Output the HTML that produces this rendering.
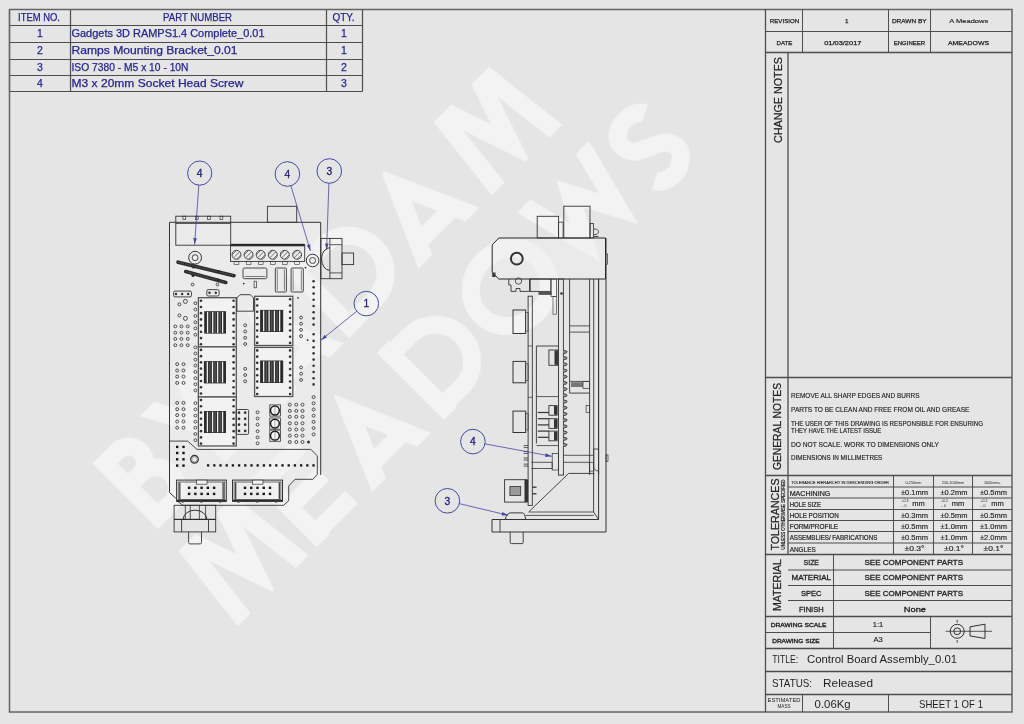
<!DOCTYPE html>
<html><head><meta charset="utf-8"><title>Control Board Assembly</title>
<style>
html,body{margin:0;padding:0;background:#e5e5e5;width:1024px;height:724px;overflow:hidden;}
svg{display:block;font-family:"Liberation Sans",sans-serif;}
</style></head><body>
<svg width="1024" height="724" viewBox="0 0 1024 724">
<rect width="1024" height="724" fill="#e5e5e5"/>
<defs><clipPath id="wmc1"><rect x="-400" y="393.0" width="900" height="92.5"/></clipPath><clipPath id="wmc2"><rect x="-400" y="516.5" width="900" height="94.0"/></clipPath></defs>
<g transform="rotate(-45)" opacity="0.55" fill="none" stroke="#ffffff" stroke-width="18.0" stroke-linejoin="miter" stroke-miterlimit="20">
<path clip-path="url(#wmc1)" d="M-253.5,390.0 V488.5 M-253.5,402.0 H-236.3 A16.3,16.3 0 0 1 -236.3,434.6 H-253.5 M-253.5,434.6 H-234.9 A20.9,20.9 0 0 1 -234.9,476.5 H-253.5 M-192.0,381.0 L-159.0,441.1 L-126.0,381.0 M-159.0,436.1 V488.5 M-82.8,500.5 L-43.0,411.1 L-3.2,500.5 M-73.8,467.0 H-12.2 M17.0,390.0 V488.5 M17.0,402.0 H53.2 A37.2,37.2 0 0 1 53.2,476.5 H17.0 M109.2,500.5 L149.0,411.1 L188.8,500.5 M118.2,467.0 H179.8 M216.4,505.5 L231.0,379.0 L259.5,463.5 L288.0,379.0 L302.6,505.5"/>
<path clip-path="url(#wmc2)" d="M-267.6,629.0 L-253.0,504.0 L-224.5,587.0 L-196.0,504.0 L-181.4,629.0 M-154.0,515.0 V612.0 M-163.0,527.0 H-103.0 M-163.0,563.5 H-107.0 M-163.0,600.0 H-103.0 M-80.7,624.0 L-43.0,536.7 L-5.3,624.0 M-72.1,590.8 H-13.9 M26.0,515.0 V612.0 M26.0,527.0 H52.5 A36.5,36.5 0 0 1 52.5,600.0 H26.0 M117.0,563.5 A40.5,37.5 0 1 1 198.0,563.5 A40.5,37.5 0 1 1 117.0,563.5 Z M222.0,506.0 L242.1,585.0 L266.0,540.0 L289.9,585.0 L310.0,506.0 M376.0,536.2 C372.0,528.0 363.5,527.0 355.5,527.0 C343.0,527.0 336.0,536.1 336.0,542.6 C336.0,556.2 345.5,559.0 355.5,563.5 C365.5,568.0 375.0,570.8 375.0,584.4 C375.0,590.9 362.5,600.0 355.5,600.0 C347.5,600.0 339.0,599.0 335.0,590.8"/>
</g>
<path d="M169.5,222.3 H320.7 V475 L317.3,479.3 H295 L288.7,489 V500.8 L283,505.3 H182.8 L177.9,501.6 L175.8,498.3 L170.1,492.5 Z" fill="#f0f0f0" fill-opacity="0.55" stroke="none"/>
<path d="M169.5,222.3 H320.7 V475" fill="none" stroke="#333333" stroke-width="1.0" />
<path d="M169.5,222.3 V492.5 L175.8,498.3" fill="none" stroke="#333333" stroke-width="1.0" />
<path d="M169.5,441.1 H187.7 L197,449.4 H310.8 L317.3,455.8 V474.4 L312.9,479.3 H295 L288.7,486 V500.8 L283.5,505.3 H182.8 L177.9,501.6" fill="none" stroke="#333333" stroke-width="0.9" />
<rect x="175.8" y="216.2" width="54.9" height="29" rx="0" fill="none" stroke="#333333" stroke-width="0.9"/>
<line x1="175.8" y1="223.5" x2="230.7" y2="223.5" stroke="#333333" stroke-width="0.8"/>
<rect x="182.9" y="216.2" width="2.8" height="3.2" rx="0" fill="none" stroke="#333333" stroke-width="0.7"/>
<rect x="195.4" y="216.2" width="2.8" height="3.2" rx="0" fill="none" stroke="#333333" stroke-width="0.7"/>
<rect x="207.5" y="216.2" width="2.8" height="3.2" rx="0" fill="none" stroke="#333333" stroke-width="0.7"/>
<rect x="220" y="216.2" width="2.8" height="3.2" rx="0" fill="none" stroke="#333333" stroke-width="0.7"/>
<rect x="267.4" y="206.3" width="29.3" height="16" rx="0" fill="none" stroke="#333333" stroke-width="0.9"/>
<rect x="230.5" y="244.7" width="74.2" height="16.7" rx="0" fill="none" stroke="#333333" stroke-width="0.9"/>
<rect x="230.5" y="243.8" width="74.2" height="2.5" fill="#2a2a2a"/>
<circle cx="236.5" cy="254.8" r="4.5" fill="none" stroke="#333333" stroke-width="0.9"/>
<line x1="231.3" y1="255.6" x2="237.3" y2="249.6" stroke="#3a3a3a" stroke-width="0.7" clip-path="url(#tc0)"/>
<line x1="233.5" y1="257.8" x2="239.5" y2="251.8" stroke="#3a3a3a" stroke-width="0.7" clip-path="url(#tc0)"/>
<line x1="235.7" y1="260" x2="241.7" y2="254" stroke="#3a3a3a" stroke-width="0.7" clip-path="url(#tc0)"/>
<clipPath id="tc0"><circle cx="236.5" cy="254.8" r="4.2"/></clipPath>
<circle cx="248.6" cy="254.8" r="4.5" fill="none" stroke="#333333" stroke-width="0.9"/>
<line x1="243.4" y1="255.6" x2="249.4" y2="249.6" stroke="#3a3a3a" stroke-width="0.7" clip-path="url(#tc1)"/>
<line x1="245.6" y1="257.8" x2="251.6" y2="251.8" stroke="#3a3a3a" stroke-width="0.7" clip-path="url(#tc1)"/>
<line x1="247.8" y1="260" x2="253.8" y2="254" stroke="#3a3a3a" stroke-width="0.7" clip-path="url(#tc1)"/>
<clipPath id="tc1"><circle cx="248.6" cy="254.8" r="4.2"/></clipPath>
<circle cx="260.7" cy="254.8" r="4.5" fill="none" stroke="#333333" stroke-width="0.9"/>
<line x1="255.5" y1="255.6" x2="261.5" y2="249.6" stroke="#3a3a3a" stroke-width="0.7" clip-path="url(#tc2)"/>
<line x1="257.7" y1="257.8" x2="263.7" y2="251.8" stroke="#3a3a3a" stroke-width="0.7" clip-path="url(#tc2)"/>
<line x1="259.9" y1="260" x2="265.9" y2="254" stroke="#3a3a3a" stroke-width="0.7" clip-path="url(#tc2)"/>
<clipPath id="tc2"><circle cx="260.7" cy="254.8" r="4.2"/></clipPath>
<circle cx="272.8" cy="254.8" r="4.5" fill="none" stroke="#333333" stroke-width="0.9"/>
<line x1="267.6" y1="255.6" x2="273.6" y2="249.6" stroke="#3a3a3a" stroke-width="0.7" clip-path="url(#tc3)"/>
<line x1="269.8" y1="257.8" x2="275.8" y2="251.8" stroke="#3a3a3a" stroke-width="0.7" clip-path="url(#tc3)"/>
<line x1="272" y1="260" x2="278" y2="254" stroke="#3a3a3a" stroke-width="0.7" clip-path="url(#tc3)"/>
<clipPath id="tc3"><circle cx="272.8" cy="254.8" r="4.2"/></clipPath>
<circle cx="284.8" cy="254.8" r="4.5" fill="none" stroke="#333333" stroke-width="0.9"/>
<line x1="279.6" y1="255.6" x2="285.6" y2="249.6" stroke="#3a3a3a" stroke-width="0.7" clip-path="url(#tc4)"/>
<line x1="281.8" y1="257.8" x2="287.8" y2="251.8" stroke="#3a3a3a" stroke-width="0.7" clip-path="url(#tc4)"/>
<line x1="284" y1="260" x2="290" y2="254" stroke="#3a3a3a" stroke-width="0.7" clip-path="url(#tc4)"/>
<clipPath id="tc4"><circle cx="284.8" cy="254.8" r="4.2"/></clipPath>
<circle cx="297.1" cy="254.8" r="4.5" fill="none" stroke="#333333" stroke-width="0.9"/>
<line x1="291.9" y1="255.6" x2="297.9" y2="249.6" stroke="#3a3a3a" stroke-width="0.7" clip-path="url(#tc5)"/>
<line x1="294.1" y1="257.8" x2="300.1" y2="251.8" stroke="#3a3a3a" stroke-width="0.7" clip-path="url(#tc5)"/>
<line x1="296.3" y1="260" x2="302.3" y2="254" stroke="#3a3a3a" stroke-width="0.7" clip-path="url(#tc5)"/>
<clipPath id="tc5"><circle cx="297.1" cy="254.8" r="4.2"/></clipPath>
<rect x="234.1" y="261.4" width="4.8" height="3.2" rx="0" fill="none" stroke="#333333" stroke-width="0.6"/>
<rect x="246.2" y="261.4" width="4.8" height="3.2" rx="0" fill="none" stroke="#333333" stroke-width="0.6"/>
<rect x="258.3" y="261.4" width="4.8" height="3.2" rx="0" fill="none" stroke="#333333" stroke-width="0.6"/>
<rect x="270.4" y="261.4" width="4.8" height="3.2" rx="0" fill="none" stroke="#333333" stroke-width="0.6"/>
<rect x="282.4" y="261.4" width="4.8" height="3.2" rx="0" fill="none" stroke="#333333" stroke-width="0.6"/>
<rect x="294.7" y="261.4" width="4.8" height="3.2" rx="0" fill="none" stroke="#333333" stroke-width="0.6"/>
<circle cx="195.1" cy="257.7" r="6.4" fill="none" stroke="#333333" stroke-width="1.0"/>
<circle cx="195.1" cy="257.7" r="3" fill="none" stroke="#333333" stroke-width="0.9"/>
<circle cx="312.6" cy="260.5" r="6.3" fill="none" stroke="#333333" stroke-width="1.0"/>
<circle cx="312.6" cy="260.5" r="3" fill="none" stroke="#333333" stroke-width="0.9"/>
<line x1="178.1" y1="262.2" x2="234.0" y2="275.7" stroke="#2c2c2c" stroke-width="3.6" stroke-linecap="round"/>
<line x1="178.1" y1="262.2" x2="234.0" y2="275.7" stroke="#8a8a8a" stroke-width="0.6" stroke-dasharray="1.2,1.2"/>
<line x1="185.7" y1="271.5" x2="225.8" y2="282.5" stroke="#2c2c2c" stroke-width="3.6" stroke-linecap="round"/>
<line x1="185.7" y1="271.5" x2="225.8" y2="282.5" stroke="#8a8a8a" stroke-width="0.6" stroke-dasharray="1.2,1.2"/>
<circle cx="193.5" cy="267" r="1.6" fill="#2c2c2c"/>
<circle cx="218.5" cy="271.5" r="1.6" fill="#2c2c2c"/>
<circle cx="193" cy="275.5" r="1.6" fill="#2c2c2c"/>
<circle cx="218" cy="280" r="1.6" fill="#2c2c2c"/>
<circle cx="192.6" cy="284.5" r="1.4" fill="none" stroke="#444" stroke-width="0.95"/>
<circle cx="217.5" cy="284.5" r="1.4" fill="none" stroke="#444" stroke-width="0.95"/>
<rect x="173.6" y="291.1" width="17.9" height="5.8" rx="1.5" fill="none" stroke="#333333" stroke-width="0.9"/>
<circle cx="176" cy="294.1" r="1.25" fill="#333333"/>
<circle cx="182.1" cy="294.1" r="1.25" fill="#333333"/>
<circle cx="188.2" cy="294.1" r="1.25" fill="#333333"/>
<rect x="206.8" y="289.6" width="12.3" height="6.4" rx="1.5" fill="none" stroke="#333333" stroke-width="0.9"/>
<circle cx="209.5" cy="292.8" r="1.25" fill="#333333"/>
<circle cx="215.8" cy="292.8" r="1.25" fill="#333333"/>
<rect x="243" y="268" width="23.9" height="10.7" rx="1.5" fill="none" stroke="#333333" stroke-width="0.9"/>
<line x1="244.5" y1="276.5" x2="265.5" y2="276.5" stroke="#333333" stroke-width="0.6"/>
<rect x="275.3" y="268" width="11.1" height="24" rx="1" fill="none" stroke="#333333" stroke-width="0.9"/>
<line x1="277.3" y1="269.5" x2="277.3" y2="290.5" stroke="#333333" stroke-width="0.6"/>
<line x1="284.4" y1="269.5" x2="284.4" y2="290.5" stroke="#333333" stroke-width="0.6"/>
<rect x="291.1" y="268" width="12.2" height="24" rx="1" fill="none" stroke="#333333" stroke-width="0.9"/>
<line x1="293.1" y1="269.5" x2="293.1" y2="290.5" stroke="#333333" stroke-width="0.6"/>
<line x1="301.3" y1="269.5" x2="301.3" y2="290.5" stroke="#333333" stroke-width="0.6"/>
<rect x="254.1" y="281.2" width="2.5" height="6.6" rx="0" fill="none" stroke="#333333" stroke-width="0.7"/>
<circle cx="243.7" cy="283.6" r="0.9" fill="#333333"/>
<circle cx="305.5" cy="267.6" r="0.9" fill="#333333"/>
<circle cx="298" cy="297.8" r="0.9" fill="#333333"/>
<circle cx="307.6" cy="340.2" r="0.9" fill="#333333"/>
<circle cx="185.4" cy="301.4" r="2" fill="none" stroke="#444" stroke-width="0.95"/>
<circle cx="179.4" cy="304.3" r="1.5" fill="none" stroke="#444" stroke-width="0.95"/>
<circle cx="179.4" cy="315.4" r="1.5" fill="none" stroke="#444" stroke-width="0.95"/>
<circle cx="185.4" cy="318.4" r="2" fill="none" stroke="#444" stroke-width="0.95"/>
<rect x="198.4" y="297.7" width="37.9" height="49.2" rx="0" fill="#f2f2f2" stroke="#555" stroke-width="1.3"/>
<circle cx="201" cy="300.7" r="1.3" fill="#333333"/>
<circle cx="233.6" cy="300.7" r="1.3" fill="#333333"/>
<circle cx="201" cy="306.93" r="1.3" fill="#333333"/>
<circle cx="233.6" cy="306.93" r="1.3" fill="#333333"/>
<circle cx="201" cy="313.16" r="1.3" fill="#333333"/>
<circle cx="233.6" cy="313.16" r="1.3" fill="#333333"/>
<circle cx="201" cy="319.39" r="1.3" fill="#333333"/>
<circle cx="233.6" cy="319.39" r="1.3" fill="#333333"/>
<circle cx="201" cy="325.62" r="1.3" fill="#333333"/>
<circle cx="233.6" cy="325.62" r="1.3" fill="#333333"/>
<circle cx="201" cy="331.85" r="1.3" fill="#333333"/>
<circle cx="233.6" cy="331.85" r="1.3" fill="#333333"/>
<circle cx="201" cy="338.08" r="1.3" fill="#333333"/>
<circle cx="233.6" cy="338.08" r="1.3" fill="#333333"/>
<circle cx="201" cy="344.31" r="1.3" fill="#333333"/>
<circle cx="233.6" cy="344.31" r="1.3" fill="#333333"/>
<rect x="204.2" y="311.2" width="21.8" height="22.4" fill="#2c2c2c"/>
<line x1="207.58" y1="311.9" x2="207.58" y2="332.9" stroke="#f0f0f0" stroke-width="1.3"/>
<line x1="212.7" y1="311.9" x2="212.7" y2="332.9" stroke="#f0f0f0" stroke-width="1.3"/>
<line x1="217.72" y1="311.9" x2="217.72" y2="332.9" stroke="#f0f0f0" stroke-width="1.3"/>
<line x1="222.62" y1="311.9" x2="222.62" y2="332.9" stroke="#f0f0f0" stroke-width="1.3"/>
<line x1="210.09" y1="311.9" x2="210.09" y2="332.9" stroke="#6a6a6a" stroke-width="0.9"/>
<line x1="215.21" y1="311.9" x2="215.21" y2="332.9" stroke="#6a6a6a" stroke-width="0.9"/>
<line x1="220.22" y1="311.9" x2="220.22" y2="332.9" stroke="#6a6a6a" stroke-width="0.9"/>
<rect x="198.4" y="346.9" width="37.9" height="50.1" rx="0" fill="#f2f2f2" stroke="#555" stroke-width="1.3"/>
<circle cx="201" cy="349.9" r="1.3" fill="#333333"/>
<circle cx="233.6" cy="349.9" r="1.3" fill="#333333"/>
<circle cx="201" cy="356.13" r="1.3" fill="#333333"/>
<circle cx="233.6" cy="356.13" r="1.3" fill="#333333"/>
<circle cx="201" cy="362.36" r="1.3" fill="#333333"/>
<circle cx="233.6" cy="362.36" r="1.3" fill="#333333"/>
<circle cx="201" cy="368.59" r="1.3" fill="#333333"/>
<circle cx="233.6" cy="368.59" r="1.3" fill="#333333"/>
<circle cx="201" cy="374.82" r="1.3" fill="#333333"/>
<circle cx="233.6" cy="374.82" r="1.3" fill="#333333"/>
<circle cx="201" cy="381.05" r="1.3" fill="#333333"/>
<circle cx="233.6" cy="381.05" r="1.3" fill="#333333"/>
<circle cx="201" cy="387.28" r="1.3" fill="#333333"/>
<circle cx="233.6" cy="387.28" r="1.3" fill="#333333"/>
<circle cx="201" cy="393.51" r="1.3" fill="#333333"/>
<circle cx="233.6" cy="393.51" r="1.3" fill="#333333"/>
<rect x="203.9" y="361.1" width="22.1" height="22.3" fill="#2c2c2c"/>
<line x1="207.33" y1="361.8" x2="207.33" y2="382.7" stroke="#f0f0f0" stroke-width="1.3"/>
<line x1="212.52" y1="361.8" x2="212.52" y2="382.7" stroke="#f0f0f0" stroke-width="1.3"/>
<line x1="217.6" y1="361.8" x2="217.6" y2="382.7" stroke="#f0f0f0" stroke-width="1.3"/>
<line x1="222.57" y1="361.8" x2="222.57" y2="382.7" stroke="#f0f0f0" stroke-width="1.3"/>
<line x1="209.87" y1="361.8" x2="209.87" y2="382.7" stroke="#6a6a6a" stroke-width="0.9"/>
<line x1="215.06" y1="361.8" x2="215.06" y2="382.7" stroke="#6a6a6a" stroke-width="0.9"/>
<line x1="220.14" y1="361.8" x2="220.14" y2="382.7" stroke="#6a6a6a" stroke-width="0.9"/>
<rect x="198.4" y="397" width="37.9" height="49" rx="0" fill="#f2f2f2" stroke="#555" stroke-width="1.3"/>
<circle cx="201" cy="400" r="1.3" fill="#333333"/>
<circle cx="233.6" cy="400" r="1.3" fill="#333333"/>
<circle cx="201" cy="406.23" r="1.3" fill="#333333"/>
<circle cx="233.6" cy="406.23" r="1.3" fill="#333333"/>
<circle cx="201" cy="412.46" r="1.3" fill="#333333"/>
<circle cx="233.6" cy="412.46" r="1.3" fill="#333333"/>
<circle cx="201" cy="418.69" r="1.3" fill="#333333"/>
<circle cx="233.6" cy="418.69" r="1.3" fill="#333333"/>
<circle cx="201" cy="424.92" r="1.3" fill="#333333"/>
<circle cx="233.6" cy="424.92" r="1.3" fill="#333333"/>
<circle cx="201" cy="431.15" r="1.3" fill="#333333"/>
<circle cx="233.6" cy="431.15" r="1.3" fill="#333333"/>
<circle cx="201" cy="437.38" r="1.3" fill="#333333"/>
<circle cx="233.6" cy="437.38" r="1.3" fill="#333333"/>
<circle cx="201" cy="443.61" r="1.3" fill="#333333"/>
<circle cx="233.6" cy="443.61" r="1.3" fill="#333333"/>
<rect x="204" y="411" width="22" height="22" fill="#2c2c2c"/>
<line x1="207.41" y1="411.7" x2="207.41" y2="432.3" stroke="#f0f0f0" stroke-width="1.3"/>
<line x1="212.58" y1="411.7" x2="212.58" y2="432.3" stroke="#f0f0f0" stroke-width="1.3"/>
<line x1="217.64" y1="411.7" x2="217.64" y2="432.3" stroke="#f0f0f0" stroke-width="1.3"/>
<line x1="222.59" y1="411.7" x2="222.59" y2="432.3" stroke="#f0f0f0" stroke-width="1.3"/>
<line x1="209.94" y1="411.7" x2="209.94" y2="432.3" stroke="#6a6a6a" stroke-width="0.9"/>
<line x1="215.11" y1="411.7" x2="215.11" y2="432.3" stroke="#6a6a6a" stroke-width="0.9"/>
<line x1="220.17" y1="411.7" x2="220.17" y2="432.3" stroke="#6a6a6a" stroke-width="0.9"/>
<rect x="254.6" y="296.3" width="38.2" height="49.2" rx="0" fill="#f2f2f2" stroke="#555" stroke-width="1.3"/>
<circle cx="257.2" cy="299.3" r="1.3" fill="#333333"/>
<circle cx="290.1" cy="299.3" r="1.3" fill="#333333"/>
<circle cx="257.2" cy="305.53" r="1.3" fill="#333333"/>
<circle cx="290.1" cy="305.53" r="1.3" fill="#333333"/>
<circle cx="257.2" cy="311.76" r="1.3" fill="#333333"/>
<circle cx="290.1" cy="311.76" r="1.3" fill="#333333"/>
<circle cx="257.2" cy="317.99" r="1.3" fill="#333333"/>
<circle cx="290.1" cy="317.99" r="1.3" fill="#333333"/>
<circle cx="257.2" cy="324.22" r="1.3" fill="#333333"/>
<circle cx="290.1" cy="324.22" r="1.3" fill="#333333"/>
<circle cx="257.2" cy="330.45" r="1.3" fill="#333333"/>
<circle cx="290.1" cy="330.45" r="1.3" fill="#333333"/>
<circle cx="257.2" cy="336.68" r="1.3" fill="#333333"/>
<circle cx="290.1" cy="336.68" r="1.3" fill="#333333"/>
<circle cx="257.2" cy="342.91" r="1.3" fill="#333333"/>
<circle cx="290.1" cy="342.91" r="1.3" fill="#333333"/>
<rect x="260.1" y="309.9" width="23.1" height="22.1" fill="#2c2c2c"/>
<line x1="263.68" y1="310.6" x2="263.68" y2="331.3" stroke="#f0f0f0" stroke-width="1.3"/>
<line x1="269.11" y1="310.6" x2="269.11" y2="331.3" stroke="#f0f0f0" stroke-width="1.3"/>
<line x1="274.42" y1="310.6" x2="274.42" y2="331.3" stroke="#f0f0f0" stroke-width="1.3"/>
<line x1="279.62" y1="310.6" x2="279.62" y2="331.3" stroke="#f0f0f0" stroke-width="1.3"/>
<line x1="266.34" y1="310.6" x2="266.34" y2="331.3" stroke="#6a6a6a" stroke-width="0.9"/>
<line x1="271.77" y1="310.6" x2="271.77" y2="331.3" stroke="#6a6a6a" stroke-width="0.9"/>
<line x1="277.08" y1="310.6" x2="277.08" y2="331.3" stroke="#6a6a6a" stroke-width="0.9"/>
<rect x="254.6" y="347.4" width="38.2" height="49.1" rx="0" fill="#f2f2f2" stroke="#555" stroke-width="1.3"/>
<circle cx="257.2" cy="350.4" r="1.3" fill="#333333"/>
<circle cx="290.1" cy="350.4" r="1.3" fill="#333333"/>
<circle cx="257.2" cy="356.63" r="1.3" fill="#333333"/>
<circle cx="290.1" cy="356.63" r="1.3" fill="#333333"/>
<circle cx="257.2" cy="362.86" r="1.3" fill="#333333"/>
<circle cx="290.1" cy="362.86" r="1.3" fill="#333333"/>
<circle cx="257.2" cy="369.09" r="1.3" fill="#333333"/>
<circle cx="290.1" cy="369.09" r="1.3" fill="#333333"/>
<circle cx="257.2" cy="375.32" r="1.3" fill="#333333"/>
<circle cx="290.1" cy="375.32" r="1.3" fill="#333333"/>
<circle cx="257.2" cy="381.55" r="1.3" fill="#333333"/>
<circle cx="290.1" cy="381.55" r="1.3" fill="#333333"/>
<circle cx="257.2" cy="387.78" r="1.3" fill="#333333"/>
<circle cx="290.1" cy="387.78" r="1.3" fill="#333333"/>
<circle cx="257.2" cy="394.01" r="1.3" fill="#333333"/>
<circle cx="290.1" cy="394.01" r="1.3" fill="#333333"/>
<rect x="260.1" y="360.5" width="23.1" height="22.5" fill="#2c2c2c"/>
<line x1="263.68" y1="361.2" x2="263.68" y2="382.3" stroke="#f0f0f0" stroke-width="1.3"/>
<line x1="269.11" y1="361.2" x2="269.11" y2="382.3" stroke="#f0f0f0" stroke-width="1.3"/>
<line x1="274.42" y1="361.2" x2="274.42" y2="382.3" stroke="#f0f0f0" stroke-width="1.3"/>
<line x1="279.62" y1="361.2" x2="279.62" y2="382.3" stroke="#f0f0f0" stroke-width="1.3"/>
<line x1="266.34" y1="361.2" x2="266.34" y2="382.3" stroke="#6a6a6a" stroke-width="0.9"/>
<line x1="271.77" y1="361.2" x2="271.77" y2="382.3" stroke="#6a6a6a" stroke-width="0.9"/>
<line x1="277.08" y1="361.2" x2="277.08" y2="382.3" stroke="#6a6a6a" stroke-width="0.9"/>
<path d="M236.9,311.2 V298 L240,294.7 H250.4 L253.5,298 V311.2 Z" fill="none" stroke="#333333" stroke-width="0.9" />
<circle cx="175.3" cy="326.4" r="1.45" fill="none" stroke="#444" stroke-width="0.95"/>
<circle cx="181.4" cy="326.4" r="1.45" fill="none" stroke="#444" stroke-width="0.95"/>
<circle cx="187.7" cy="326.4" r="1.45" fill="none" stroke="#444" stroke-width="0.95"/>
<circle cx="175.3" cy="332.7" r="1.45" fill="none" stroke="#444" stroke-width="0.95"/>
<circle cx="181.4" cy="332.7" r="1.45" fill="none" stroke="#444" stroke-width="0.95"/>
<circle cx="187.7" cy="332.7" r="1.45" fill="none" stroke="#444" stroke-width="0.95"/>
<circle cx="175.3" cy="338.9" r="1.45" fill="none" stroke="#444" stroke-width="0.95"/>
<circle cx="181.4" cy="338.9" r="1.45" fill="none" stroke="#444" stroke-width="0.95"/>
<circle cx="187.7" cy="338.9" r="1.45" fill="none" stroke="#444" stroke-width="0.95"/>
<circle cx="175.3" cy="345.2" r="1.45" fill="none" stroke="#444" stroke-width="0.95"/>
<circle cx="181.4" cy="345.2" r="1.45" fill="none" stroke="#444" stroke-width="0.95"/>
<circle cx="187.7" cy="345.2" r="1.45" fill="none" stroke="#444" stroke-width="0.95"/>
<circle cx="195.4" cy="303.2" r="1.45" fill="none" stroke="#444" stroke-width="0.95"/>
<circle cx="195.4" cy="309.5" r="1.45" fill="none" stroke="#444" stroke-width="0.95"/>
<circle cx="195.4" cy="315.9" r="1.45" fill="none" stroke="#444" stroke-width="0.95"/>
<circle cx="195.4" cy="322.3" r="1.45" fill="none" stroke="#444" stroke-width="0.95"/>
<circle cx="195.4" cy="328.4" r="1.45" fill="none" stroke="#444" stroke-width="0.95"/>
<circle cx="195.4" cy="334.7" r="1.45" fill="none" stroke="#444" stroke-width="0.95"/>
<circle cx="195.4" cy="347.4" r="1.45" fill="none" stroke="#444" stroke-width="0.95"/>
<circle cx="195.4" cy="353.5" r="1.45" fill="none" stroke="#444" stroke-width="0.95"/>
<circle cx="195.4" cy="359.6" r="1.45" fill="none" stroke="#444" stroke-width="0.95"/>
<circle cx="195.4" cy="365.5" r="1.45" fill="none" stroke="#444" stroke-width="0.95"/>
<circle cx="195.4" cy="371.9" r="1.45" fill="none" stroke="#444" stroke-width="0.95"/>
<circle cx="195.4" cy="378.2" r="1.45" fill="none" stroke="#444" stroke-width="0.95"/>
<circle cx="195.4" cy="384.3" r="1.45" fill="none" stroke="#444" stroke-width="0.95"/>
<circle cx="195.4" cy="390.4" r="1.45" fill="none" stroke="#444" stroke-width="0.95"/>
<circle cx="195.4" cy="403.1" r="1.45" fill="none" stroke="#444" stroke-width="0.95"/>
<circle cx="195.4" cy="409.4" r="1.45" fill="none" stroke="#444" stroke-width="0.95"/>
<circle cx="195.4" cy="415.6" r="1.45" fill="none" stroke="#444" stroke-width="0.95"/>
<circle cx="195.4" cy="421.7" r="1.45" fill="none" stroke="#444" stroke-width="0.95"/>
<circle cx="195.4" cy="427.7" r="1.45" fill="none" stroke="#444" stroke-width="0.95"/>
<circle cx="195.4" cy="434" r="1.45" fill="none" stroke="#444" stroke-width="0.95"/>
<circle cx="195.4" cy="440.2" r="1.45" fill="none" stroke="#444" stroke-width="0.95"/>
<circle cx="177.2" cy="364.2" r="1.5" fill="none" stroke="#444" stroke-width="0.95"/>
<circle cx="183.5" cy="364.2" r="1.5" fill="none" stroke="#444" stroke-width="0.95"/>
<circle cx="177.2" cy="370.5" r="1.5" fill="none" stroke="#444" stroke-width="0.95"/>
<circle cx="183.5" cy="370.5" r="1.5" fill="none" stroke="#444" stroke-width="0.95"/>
<circle cx="177.2" cy="376.6" r="1.5" fill="none" stroke="#444" stroke-width="0.95"/>
<circle cx="183.5" cy="376.6" r="1.5" fill="none" stroke="#444" stroke-width="0.95"/>
<circle cx="177.2" cy="382.9" r="1.5" fill="none" stroke="#444" stroke-width="0.95"/>
<circle cx="183.5" cy="382.9" r="1.5" fill="none" stroke="#444" stroke-width="0.95"/>
<circle cx="177.2" cy="402.9" r="1.5" fill="none" stroke="#444" stroke-width="0.95"/>
<circle cx="183.5" cy="402.9" r="1.5" fill="none" stroke="#444" stroke-width="0.95"/>
<circle cx="177.2" cy="409.2" r="1.5" fill="none" stroke="#444" stroke-width="0.95"/>
<circle cx="183.5" cy="409.2" r="1.5" fill="none" stroke="#444" stroke-width="0.95"/>
<circle cx="177.2" cy="415.2" r="1.5" fill="none" stroke="#444" stroke-width="0.95"/>
<circle cx="183.5" cy="415.2" r="1.5" fill="none" stroke="#444" stroke-width="0.95"/>
<circle cx="177.2" cy="421.5" r="1.5" fill="none" stroke="#444" stroke-width="0.95"/>
<circle cx="183.5" cy="421.5" r="1.5" fill="none" stroke="#444" stroke-width="0.95"/>
<circle cx="177.2" cy="427.7" r="1.5" fill="none" stroke="#444" stroke-width="0.95"/>
<circle cx="183.5" cy="427.7" r="1.5" fill="none" stroke="#444" stroke-width="0.95"/>
<circle cx="245.2" cy="325.3" r="1.45" fill="none" stroke="#444" stroke-width="0.95"/>
<circle cx="245.2" cy="331.5" r="1.45" fill="none" stroke="#444" stroke-width="0.95"/>
<circle cx="245.2" cy="337.8" r="1.45" fill="none" stroke="#444" stroke-width="0.95"/>
<circle cx="245.2" cy="344" r="1.45" fill="none" stroke="#444" stroke-width="0.95"/>
<circle cx="245.2" cy="368.8" r="1.45" fill="none" stroke="#444" stroke-width="0.95"/>
<circle cx="245.2" cy="375" r="1.45" fill="none" stroke="#444" stroke-width="0.95"/>
<circle cx="245.2" cy="381.3" r="1.45" fill="none" stroke="#444" stroke-width="0.95"/>
<circle cx="301.1" cy="317.5" r="1.45" fill="none" stroke="#444" stroke-width="0.95"/>
<circle cx="301.1" cy="323.7" r="1.45" fill="none" stroke="#444" stroke-width="0.95"/>
<circle cx="301.1" cy="329.9" r="1.45" fill="none" stroke="#444" stroke-width="0.95"/>
<circle cx="301.1" cy="336.1" r="1.45" fill="none" stroke="#444" stroke-width="0.95"/>
<circle cx="301.1" cy="367.5" r="1.45" fill="none" stroke="#444" stroke-width="0.95"/>
<circle cx="301.1" cy="373.7" r="1.45" fill="none" stroke="#444" stroke-width="0.95"/>
<circle cx="301.1" cy="379.9" r="1.45" fill="none" stroke="#444" stroke-width="0.95"/>
<circle cx="313.6" cy="281.2" r="1.3" fill="#333333"/>
<circle cx="313.6" cy="287.3" r="1.3" fill="#333333"/>
<circle cx="313.6" cy="293.6" r="1.3" fill="#333333"/>
<circle cx="313.6" cy="299.8" r="1.3" fill="#333333"/>
<circle cx="313.6" cy="306" r="1.3" fill="#333333"/>
<circle cx="313.6" cy="312.2" r="1.3" fill="#333333"/>
<circle cx="313.6" cy="318.4" r="1.3" fill="#333333"/>
<circle cx="313.6" cy="324.6" r="1.3" fill="#333333"/>
<circle cx="313.6" cy="334.3" r="1.3" fill="#333333"/>
<circle cx="313.6" cy="340.9" r="1.3" fill="#333333"/>
<circle cx="313.6" cy="347.2" r="1.3" fill="#333333"/>
<circle cx="313.6" cy="353.4" r="1.3" fill="#333333"/>
<circle cx="313.6" cy="359.6" r="1.3" fill="#333333"/>
<circle cx="313.6" cy="365.8" r="1.3" fill="#333333"/>
<circle cx="313.6" cy="372" r="1.3" fill="#333333"/>
<circle cx="313.6" cy="378.2" r="1.3" fill="#333333"/>
<circle cx="313.6" cy="384.4" r="1.3" fill="#333333"/>
<circle cx="313.6" cy="397.1" r="1.5" fill="none" stroke="#444" stroke-width="0.95"/>
<circle cx="313.6" cy="403.3" r="1.5" fill="none" stroke="#444" stroke-width="0.95"/>
<circle cx="313.6" cy="409.5" r="1.5" fill="none" stroke="#444" stroke-width="0.95"/>
<circle cx="313.6" cy="415.7" r="1.5" fill="none" stroke="#444" stroke-width="0.95"/>
<circle cx="313.6" cy="421.9" r="1.5" fill="none" stroke="#444" stroke-width="0.95"/>
<circle cx="313.6" cy="428.1" r="1.5" fill="none" stroke="#444" stroke-width="0.95"/>
<circle cx="313.6" cy="434.4" r="1.5" fill="none" stroke="#444" stroke-width="0.95"/>
<rect x="236.2" y="409.5" width="12.4" height="24.9" rx="1.2" fill="none" stroke="#333333" stroke-width="0.9"/>
<circle cx="239" cy="412.7" r="1.35" fill="#333333"/>
<circle cx="245.2" cy="412.7" r="1.35" fill="#333333"/>
<circle cx="239" cy="418.8" r="1.35" fill="#333333"/>
<circle cx="245.2" cy="418.8" r="1.35" fill="#333333"/>
<circle cx="239" cy="424.7" r="1.35" fill="#333333"/>
<circle cx="245.2" cy="424.7" r="1.35" fill="#333333"/>
<circle cx="239" cy="430.9" r="1.35" fill="#333333"/>
<circle cx="245.2" cy="430.9" r="1.35" fill="#333333"/>
<rect x="269.8" y="404.9" width="10.6" height="11.2" rx="0" fill="none" stroke="#333333" stroke-width="0.8"/>
<circle cx="274.9" cy="410.5" r="4.4" fill="#f4f4f4" stroke="#1a1a1a" stroke-width="1.5"/>
<line x1="274.9" y1="406.3" x2="274.9" y2="414.7" stroke="#666" stroke-width="0.5"/>
<rect x="269.8" y="418" width="10.6" height="11.2" rx="0" fill="none" stroke="#333333" stroke-width="0.8"/>
<circle cx="274.9" cy="423.6" r="4.4" fill="#f4f4f4" stroke="#1a1a1a" stroke-width="1.5"/>
<line x1="274.9" y1="419.4" x2="274.9" y2="427.8" stroke="#666" stroke-width="0.5"/>
<rect x="269.8" y="430.1" width="10.6" height="11.2" rx="0" fill="none" stroke="#333333" stroke-width="0.8"/>
<circle cx="274.9" cy="435.7" r="4.4" fill="#f4f4f4" stroke="#1a1a1a" stroke-width="1.5"/>
<line x1="274.9" y1="431.5" x2="274.9" y2="439.9" stroke="#666" stroke-width="0.5"/>
<circle cx="257.6" cy="412.3" r="1.45" fill="none" stroke="#444" stroke-width="0.95"/>
<circle cx="257.6" cy="418.5" r="1.45" fill="none" stroke="#444" stroke-width="0.95"/>
<circle cx="257.6" cy="424.7" r="1.45" fill="none" stroke="#444" stroke-width="0.95"/>
<circle cx="257.6" cy="431.2" r="1.45" fill="none" stroke="#444" stroke-width="0.95"/>
<circle cx="257.6" cy="437.4" r="1.45" fill="none" stroke="#444" stroke-width="0.95"/>
<circle cx="257.6" cy="443.3" r="1.45" fill="none" stroke="#444" stroke-width="0.95"/>
<circle cx="289.8" cy="404.7" r="1.5" fill="none" stroke="#444" stroke-width="0.95"/>
<circle cx="296.3" cy="404.7" r="1.5" fill="none" stroke="#444" stroke-width="0.95"/>
<circle cx="302.5" cy="404.7" r="1.5" fill="none" stroke="#444" stroke-width="0.95"/>
<circle cx="289.8" cy="410.9" r="1.5" fill="none" stroke="#444" stroke-width="0.95"/>
<circle cx="296.3" cy="410.9" r="1.5" fill="none" stroke="#444" stroke-width="0.95"/>
<circle cx="302.5" cy="410.9" r="1.5" fill="none" stroke="#444" stroke-width="0.95"/>
<circle cx="289.8" cy="416.8" r="1.5" fill="none" stroke="#444" stroke-width="0.95"/>
<circle cx="296.3" cy="416.8" r="1.5" fill="none" stroke="#444" stroke-width="0.95"/>
<circle cx="302.5" cy="416.8" r="1.5" fill="none" stroke="#444" stroke-width="0.95"/>
<circle cx="289.8" cy="423.3" r="1.5" fill="none" stroke="#444" stroke-width="0.95"/>
<circle cx="296.3" cy="423.3" r="1.5" fill="none" stroke="#444" stroke-width="0.95"/>
<circle cx="302.5" cy="423.3" r="1.5" fill="none" stroke="#444" stroke-width="0.95"/>
<circle cx="289.8" cy="429.5" r="1.5" fill="none" stroke="#444" stroke-width="0.95"/>
<circle cx="296.3" cy="429.5" r="1.5" fill="none" stroke="#444" stroke-width="0.95"/>
<circle cx="302.5" cy="429.5" r="1.5" fill="none" stroke="#444" stroke-width="0.95"/>
<circle cx="289.8" cy="435.7" r="1.5" fill="none" stroke="#444" stroke-width="0.95"/>
<circle cx="296.3" cy="435.7" r="1.5" fill="none" stroke="#444" stroke-width="0.95"/>
<circle cx="302.5" cy="435.7" r="1.5" fill="none" stroke="#444" stroke-width="0.95"/>
<circle cx="289.8" cy="442" r="1.5" fill="none" stroke="#444" stroke-width="0.95"/>
<circle cx="296.3" cy="442" r="1.5" fill="none" stroke="#444" stroke-width="0.95"/>
<circle cx="302.5" cy="442" r="1.5" fill="none" stroke="#444" stroke-width="0.95"/>
<circle cx="308.5" cy="442" r="1.5" fill="#333333"/>
<rect x="176" y="445.7" width="2.4" height="2.4" fill="#141414"/>
<rect x="182.3" y="445.7" width="2.4" height="2.4" fill="#141414"/>
<rect x="176" y="451.8" width="2.4" height="2.4" fill="#141414"/>
<rect x="182.3" y="451.8" width="2.4" height="2.4" fill="#141414"/>
<rect x="176" y="458.1" width="2.4" height="2.4" fill="#141414"/>
<rect x="182.3" y="458.1" width="2.4" height="2.4" fill="#141414"/>
<rect x="176" y="464.4" width="2.4" height="2.4" fill="#141414"/>
<rect x="182.3" y="464.4" width="2.4" height="2.4" fill="#141414"/>
<circle cx="194.5" cy="459.3" r="3.8" fill="none" stroke="#333333" stroke-width="1.3"/>
<circle cx="194.5" cy="459.3" r="2.6" fill="none" stroke="#777" stroke-width="0.6"/>
<rect x="206.95" y="464.25" width="2.3" height="2.3" fill="#141414"/>
<rect x="213.15" y="464.25" width="2.3" height="2.3" fill="#141414"/>
<rect x="219.35" y="464.25" width="2.3" height="2.3" fill="#141414"/>
<rect x="225.55" y="464.25" width="2.3" height="2.3" fill="#141414"/>
<rect x="231.75" y="464.25" width="2.3" height="2.3" fill="#141414"/>
<rect x="237.95" y="464.25" width="2.3" height="2.3" fill="#141414"/>
<rect x="244.15" y="464.25" width="2.3" height="2.3" fill="#141414"/>
<rect x="250.35" y="464.25" width="2.3" height="2.3" fill="#141414"/>
<rect x="256.55" y="464.25" width="2.3" height="2.3" fill="#141414"/>
<rect x="262.75" y="464.25" width="2.3" height="2.3" fill="#141414"/>
<rect x="268.95" y="464.25" width="2.3" height="2.3" fill="#141414"/>
<rect x="275.15" y="464.25" width="2.3" height="2.3" fill="#141414"/>
<rect x="281.35" y="464.25" width="2.3" height="2.3" fill="#141414"/>
<rect x="287.55" y="464.25" width="2.3" height="2.3" fill="#141414"/>
<rect x="293.75" y="464.25" width="2.3" height="2.3" fill="#141414"/>
<rect x="299.95" y="464.25" width="2.3" height="2.3" fill="#141414"/>
<rect x="306.15" y="464.25" width="2.3" height="2.3" fill="#141414"/>
<rect x="312.35" y="464.25" width="2.3" height="2.3" fill="#141414"/>
<rect x="176.6" y="480.1" width="49.7" height="21.2" rx="0" fill="none" stroke="#333333" stroke-width="1.0"/>
<rect x="178.2" y="482" width="46.5" height="17.6" rx="0" fill="none" stroke="#333333" stroke-width="0.7"/>
<line x1="179.8" y1="482.5" x2="179.8" y2="499" stroke="#333333" stroke-width="1.2"/>
<line x1="223.1" y1="482.5" x2="223.1" y2="499" stroke="#333333" stroke-width="1.2"/>
<rect x="176.6" y="499.8" width="49.7" height="1.8" fill="#2a2a2a"/>
<rect x="196.48" y="480.1" width="10.5" height="4.1" rx="0" fill="#f2f2f2" stroke="#333333" stroke-width="0.7"/>
<rect x="187.9" y="486.6" width="2.4" height="2.4" fill="#141414"/>
<rect x="187.9" y="492.7" width="2.4" height="2.4" fill="#141414"/>
<rect x="194.15" y="486.6" width="2.4" height="2.4" fill="#141414"/>
<rect x="194.15" y="492.7" width="2.4" height="2.4" fill="#141414"/>
<rect x="200.4" y="486.6" width="2.4" height="2.4" fill="#141414"/>
<rect x="200.4" y="492.7" width="2.4" height="2.4" fill="#141414"/>
<rect x="206.65" y="486.6" width="2.4" height="2.4" fill="#141414"/>
<rect x="206.65" y="492.7" width="2.4" height="2.4" fill="#141414"/>
<rect x="212.9" y="486.6" width="2.4" height="2.4" fill="#141414"/>
<rect x="212.9" y="492.7" width="2.4" height="2.4" fill="#141414"/>
<path d="M181,501.6 A1.6,1.2 0 0 0 184.2,501.6" fill="#555" stroke="none"/>
<path d="M199.8,501.6 A1.6,1.2 0 0 0 203,501.6" fill="#555" stroke="none"/>
<path d="M218.5,501.6 A1.6,1.2 0 0 0 221.7,501.6" fill="#555" stroke="none"/>
<rect x="232.5" y="480.1" width="50" height="21.2" rx="0" fill="none" stroke="#333333" stroke-width="1.0"/>
<rect x="234.1" y="482" width="46.8" height="17.6" rx="0" fill="none" stroke="#333333" stroke-width="0.7"/>
<line x1="235.7" y1="482.5" x2="235.7" y2="499" stroke="#333333" stroke-width="1.2"/>
<line x1="279.3" y1="482.5" x2="279.3" y2="499" stroke="#333333" stroke-width="1.2"/>
<rect x="232.5" y="499.8" width="50" height="1.8" fill="#2a2a2a"/>
<rect x="252.5" y="480.1" width="10.5" height="4.1" rx="0" fill="#f2f2f2" stroke="#333333" stroke-width="0.7"/>
<rect x="243.8" y="486.6" width="2.4" height="2.4" fill="#141414"/>
<rect x="243.8" y="492.7" width="2.4" height="2.4" fill="#141414"/>
<rect x="250.05" y="486.6" width="2.4" height="2.4" fill="#141414"/>
<rect x="250.05" y="492.7" width="2.4" height="2.4" fill="#141414"/>
<rect x="256.3" y="486.6" width="2.4" height="2.4" fill="#141414"/>
<rect x="256.3" y="492.7" width="2.4" height="2.4" fill="#141414"/>
<rect x="262.55" y="486.6" width="2.4" height="2.4" fill="#141414"/>
<rect x="262.55" y="492.7" width="2.4" height="2.4" fill="#141414"/>
<rect x="268.8" y="486.6" width="2.4" height="2.4" fill="#141414"/>
<rect x="268.8" y="492.7" width="2.4" height="2.4" fill="#141414"/>
<path d="M236.9,501.6 A1.6,1.2 0 0 0 240.1,501.6" fill="#555" stroke="none"/>
<path d="M255.7,501.6 A1.6,1.2 0 0 0 258.9,501.6" fill="#555" stroke="none"/>
<path d="M274.4,501.6 A1.6,1.2 0 0 0 277.6,501.6" fill="#555" stroke="none"/>
<rect x="174.1" y="505.3" width="41.6" height="26.6" rx="0" fill="none" stroke="#333333" stroke-width="0.9"/>
<rect x="174.1" y="518.8" width="41.6" height="1.2" fill="#2a2a2a"/>
<line x1="181.6" y1="519.4" x2="181.6" y2="531.9" stroke="#333333" stroke-width="0.9"/>
<line x1="208.5" y1="519.4" x2="208.5" y2="531.9" stroke="#333333" stroke-width="0.9"/>
<line x1="185.3" y1="505.3" x2="185.3" y2="519" stroke="#333333" stroke-width="0.8"/>
<line x1="190.3" y1="505.3" x2="190.3" y2="519" stroke="#333333" stroke-width="0.8"/>
<line x1="199.4" y1="505.3" x2="199.4" y2="519" stroke="#333333" stroke-width="0.8"/>
<line x1="205.6" y1="505.3" x2="205.6" y2="519" stroke="#333333" stroke-width="0.8"/>
<path d="M183.2,519.4 A11.8,9.2 0 0 1 206.9,519.4" fill="none" stroke="#333333" stroke-width="1.0" />
<path d="M188.6,531.9 V542.6 Q188.6,543.9 189.9,543.9 H200.2 Q201.5,543.9 201.5,542.6 V531.9" fill="none" stroke="#333333" stroke-width="0.9" />
<rect x="320.9" y="238.4" width="21.1" height="40.3" rx="0" fill="none" stroke="#333333" stroke-width="0.9"/>
<line x1="329.9" y1="238.4" x2="329.9" y2="278.7" stroke="#333333" stroke-width="0.9"/>
<line x1="329.9" y1="244.7" x2="342" y2="244.7" stroke="#333333" stroke-width="0.8"/>
<line x1="329.9" y1="272.9" x2="342" y2="272.9" stroke="#333333" stroke-width="0.8"/>
<path d="M329.9,247.7 A8.3,11.3 0 0 0 329.9,270.4" fill="none" stroke="#333333" stroke-width="1.0" />
<rect x="342" y="253" width="11.6" height="11.6" rx="0" fill="none" stroke="#333333" stroke-width="0.9"/>
<path d="M492,519.5 H598.6 V279 M606,238 V532 H492 V519.5" fill="none" stroke="#333333" stroke-width="1.0" />
<line x1="500" y1="519.5" x2="500" y2="532" stroke="#333333" stroke-width="0.9"/>
<path d="M528.5,512 L568.7,473.4 H593.6 V512 L598.6,519.5" fill="none" stroke="#333333" stroke-width="0.9" />
<line x1="525.6" y1="515.4" x2="593.6" y2="515.4" stroke="#333333" stroke-width="0.8"/>
<line x1="529" y1="512" x2="593.6" y2="512" stroke="#333333" stroke-width="0.8"/>
<path d="M505.3,519.5 Q506.5,513 510.5,512.9 H522.5 Q525,513 525.6,519.5" fill="none" stroke="#333333" stroke-width="1.0" />
<path d="M510.2,532 V542.5 Q510.2,543.6 511.3,543.6 H522.1 Q523.2,543.6 523.2,542.5 V532" fill="none" stroke="#333333" stroke-width="0.9" />
<path d="M498.8,238 H605.5 V279 H498.8 L492.2,272.5 V244.9 Z" fill="#f0f0f0" fill-opacity="0.5" stroke="#262626" stroke-width="1"/>
<circle cx="516.8" cy="258.7" r="5.9" fill="none" stroke="#333333" stroke-width="2.0"/>
<rect x="492.2" y="272.5" width="3.3" height="4.5" fill="#3a3a3a"/>
<rect x="537.2" y="216.3" width="21.4" height="21.7" rx="0" fill="none" stroke="#333333" stroke-width="0.9"/>
<rect x="558.6" y="222.1" width="4.5" height="15.9" rx="0" fill="none" stroke="#333333" stroke-width="0.8"/>
<rect x="563.8" y="206.2" width="26.2" height="31.8" rx="0" fill="none" stroke="#333333" stroke-width="0.9"/>
<rect x="590" y="223.5" width="3.5" height="14.5" rx="0" fill="none" stroke="#333333" stroke-width="0.8"/>
<path d="M594,229 Q598.5,229 598.5,231.8 Q598.5,234.6 594,234.6" fill="none" stroke="#333333" stroke-width="0.8" />
<line x1="593.5" y1="236.4" x2="598.5" y2="236.4" stroke="#333333" stroke-width="0.9"/>
<rect x="605.5" y="253.9" width="1.9" height="10.3" rx="0" fill="none" stroke="#333333" stroke-width="0.7"/>
<path d="M508.8,279 V285 H511 V291.4 H516 V288.5 H520 V291.4 H529.5 V279" fill="none" stroke="#333333" stroke-width="0.9" />
<circle cx="518.5" cy="281" r="3.2" fill="none" stroke="#333333" stroke-width="0.8"/>
<rect x="530.2" y="279" width="20.7" height="12.4" rx="0" fill="none" stroke="#333333" stroke-width="0.9"/>
<rect x="538.5" y="291.8" width="13.1" height="3.1" fill="#555"/>
<rect x="551" y="279" width="5.4" height="17.5" rx="0" fill="none" stroke="#333333" stroke-width="0.7"/>
<circle cx="561.5" cy="293.5" r="1.3" fill="#333333"/>
<rect x="553" y="296.5" width="3.4" height="17.7" rx="0" fill="none" stroke="#333333" stroke-width="0.6"/>
<rect x="528.1" y="296.2" width="4.2" height="209.2" rx="0" fill="none" stroke="#333333" stroke-width="0.9"/>
<line x1="528.1" y1="397.3" x2="532.3" y2="397.3" stroke="#333333" stroke-width="0.7"/>
<line x1="528.1" y1="346" x2="532.3" y2="346" stroke="#333333" stroke-width="0.7"/>
<rect x="513" y="310" width="12.7" height="23.5" rx="0" fill="none" stroke="#333333" stroke-width="1.0"/>
<rect x="525.7" y="312.5" width="2.4" height="18.5" rx="0" fill="none" stroke="#333333" stroke-width="0.6"/>
<rect x="513" y="361.4" width="12.7" height="21.4" rx="0" fill="none" stroke="#333333" stroke-width="1.0"/>
<rect x="525.7" y="363.9" width="2.4" height="16.4" rx="0" fill="none" stroke="#333333" stroke-width="0.6"/>
<rect x="513" y="411.1" width="12.7" height="21.4" rx="0" fill="none" stroke="#333333" stroke-width="1.0"/>
<rect x="525.7" y="413.6" width="2.4" height="16.4" rx="0" fill="none" stroke="#333333" stroke-width="0.6"/>
<path d="M523.6,445.6 H528.1 M523.6,447.6 H528.1" fill="none" stroke="#333333" stroke-width="0.8" />
<path d="M523.6,451.4 H528.1 M523.6,453.4 H528.1" fill="none" stroke="#333333" stroke-width="0.8" />
<path d="M523.6,458.0 H528.1 M523.6,460.0 H528.1" fill="none" stroke="#333333" stroke-width="0.8" />
<path d="M523.6,464.1 H528.1 M523.6,466.1 H528.1" fill="none" stroke="#333333" stroke-width="0.8" />
<rect x="504.6" y="479.7" width="22.2" height="22.4" rx="0" fill="none" stroke="#333333" stroke-width="0.9"/>
<rect x="509.9" y="486.4" width="10.8" height="9.1" rx="0" fill="#9a9a9a" stroke="#333333" stroke-width="0.8"/>
<rect x="524.5" y="479.7" width="3.6" height="22.4" fill="#333"/>
<line x1="532.3" y1="487.2" x2="536.5" y2="487.2" stroke="#333333" stroke-width="1.3"/>
<line x1="532.3" y1="493.8" x2="536.5" y2="493.8" stroke="#333333" stroke-width="1.3"/>
<rect x="558.5" y="279" width="4.9" height="196.1" rx="0" fill="none" stroke="#333333" stroke-width="0.9"/>
<line x1="536.4" y1="346" x2="536.4" y2="443.5" stroke="#333333" stroke-width="0.9"/>
<line x1="536.4" y1="346" x2="558.5" y2="346" stroke="#333333" stroke-width="0.9"/>
<line x1="537" y1="396.6" x2="558.5" y2="396.6" stroke="#333333" stroke-width="0.8"/>
<line x1="536.4" y1="445.6" x2="558.5" y2="445.6" stroke="#333333" stroke-width="0.8"/>
<rect x="548.9" y="350" width="8.9" height="15.3" rx="0" fill="none" stroke="#333333" stroke-width="0.9"/>
<rect x="554.5" y="350.5" width="3.3" height="14.3" fill="#333"/>
<rect x="548.9" y="405.6" width="8.2" height="9.6" rx="0" fill="none" stroke="#333333" stroke-width="0.9"/>
<rect x="554" y="406.1" width="3.1" height="8.6" fill="#333"/>
<rect x="548.9" y="418.7" width="8.2" height="9.7" rx="0" fill="none" stroke="#333333" stroke-width="0.9"/>
<rect x="554" y="419.2" width="3.1" height="8.7" fill="#333"/>
<rect x="548.9" y="431.1" width="8.2" height="9.7" rx="0" fill="none" stroke="#333333" stroke-width="0.9"/>
<rect x="554" y="431.6" width="3.1" height="8.7" fill="#333"/>
<line x1="537.8" y1="412.5" x2="548.9" y2="412.5" stroke="#333333" stroke-width="1.2"/>
<line x1="537.8" y1="418.7" x2="548.9" y2="418.7" stroke="#333333" stroke-width="1.2"/>
<line x1="537.8" y1="424.9" x2="548.9" y2="424.9" stroke="#333333" stroke-width="1.2"/>
<line x1="537.8" y1="431.1" x2="548.9" y2="431.1" stroke="#333333" stroke-width="1.2"/>
<line x1="537.8" y1="437.3" x2="548.9" y2="437.3" stroke="#333333" stroke-width="1.2"/>
<path d="M563.4,350.4 Q567.6,350.8 567.2,352 Q566.8,353.3 563.4,353.6" fill="#9a9a9a" stroke="#333" stroke-width="0.9" />
<path d="M563.4,356.6 Q567.6,357 567.2,358.2 Q566.8,359.5 563.4,359.8" fill="#9a9a9a" stroke="#333" stroke-width="0.9" />
<path d="M563.4,362.8 Q567.6,363.2 567.2,364.4 Q566.8,365.7 563.4,366" fill="#9a9a9a" stroke="#333" stroke-width="0.9" />
<path d="M563.4,369 Q567.6,369.4 567.2,370.6 Q566.8,371.9 563.4,372.2" fill="#9a9a9a" stroke="#333" stroke-width="0.9" />
<path d="M563.4,375.2 Q567.6,375.6 567.2,376.8 Q566.8,378.1 563.4,378.4" fill="#9a9a9a" stroke="#333" stroke-width="0.9" />
<path d="M563.4,381.4 Q567.6,381.8 567.2,383 Q566.8,384.3 563.4,384.6" fill="#9a9a9a" stroke="#333" stroke-width="0.9" />
<path d="M563.4,387.6 Q567.6,388 567.2,389.2 Q566.8,390.5 563.4,390.8" fill="#9a9a9a" stroke="#333" stroke-width="0.9" />
<path d="M563.4,393.8 Q567.6,394.2 567.2,395.4 Q566.8,396.7 563.4,397" fill="#9a9a9a" stroke="#333" stroke-width="0.9" />
<path d="M563.4,400 Q567.6,400.4 567.2,401.6 Q566.8,402.9 563.4,403.2" fill="#9a9a9a" stroke="#333" stroke-width="0.9" />
<path d="M563.4,406.2 Q567.6,406.6 567.2,407.8 Q566.8,409.1 563.4,409.4" fill="#9a9a9a" stroke="#333" stroke-width="0.9" />
<path d="M563.4,412.4 Q567.6,412.8 567.2,414 Q566.8,415.3 563.4,415.6" fill="#9a9a9a" stroke="#333" stroke-width="0.9" />
<path d="M563.4,418.6 Q567.6,419 567.2,420.2 Q566.8,421.5 563.4,421.8" fill="#9a9a9a" stroke="#333" stroke-width="0.9" />
<path d="M563.4,424.8 Q567.6,425.2 567.2,426.4 Q566.8,427.7 563.4,428" fill="#9a9a9a" stroke="#333" stroke-width="0.9" />
<path d="M563.4,431 Q567.6,431.4 567.2,432.6 Q566.8,433.9 563.4,434.2" fill="#9a9a9a" stroke="#333" stroke-width="0.9" />
<path d="M563.4,437.2 Q567.6,437.6 567.2,438.8 Q566.8,440.1 563.4,440.4" fill="#9a9a9a" stroke="#333" stroke-width="0.9" />
<path d="M563.4,443.4 Q567.6,443.8 567.2,445 Q566.8,446.3 563.4,446.6" fill="#9a9a9a" stroke="#333" stroke-width="0.9" />
<line x1="569.6" y1="279" x2="569.6" y2="393.1" stroke="#333333" stroke-width="0.9"/>
<line x1="569.6" y1="325.9" x2="589.6" y2="325.9" stroke="#333333" stroke-width="0.8"/>
<line x1="569.6" y1="332.1" x2="589.6" y2="332.1" stroke="#333333" stroke-width="0.8"/>
<line x1="569.6" y1="381.4" x2="589.6" y2="381.4" stroke="#333333" stroke-width="0.8"/>
<line x1="569.6" y1="393.1" x2="589.6" y2="393.1" stroke="#333333" stroke-width="0.9"/>
<rect x="571" y="382.2" width="12" height="4.8" fill="#777"/>
<rect x="583" y="381.4" width="6.6" height="7.1" rx="0" fill="none" stroke="#333333" stroke-width="0.7"/>
<rect x="586.1" y="405.6" width="3.5" height="6.9" rx="0" fill="none" stroke="#333333" stroke-width="0.7"/>
<line x1="589.6" y1="279" x2="589.6" y2="475" stroke="#333333" stroke-width="0.9"/>
<line x1="593.7" y1="279" x2="593.7" y2="475" stroke="#333333" stroke-width="0.9"/>
<line x1="598.6" y1="279" x2="598.6" y2="475" stroke="#333333" stroke-width="0.9"/>
<line x1="563.4" y1="455.3" x2="593.6" y2="455.3" stroke="#333333" stroke-width="0.8"/>
<line x1="563.4" y1="462.3" x2="589.5" y2="462.3" stroke="#333333" stroke-width="0.8"/>
<line x1="593.7" y1="449" x2="598.6" y2="449" stroke="#333333" stroke-width="0.8"/>
<line x1="531.4" y1="462.3" x2="552.2" y2="462.3" stroke="#333333" stroke-width="0.8"/>
<line x1="531.4" y1="468.5" x2="552.2" y2="468.5" stroke="#333333" stroke-width="0.8"/>
<line x1="552.2" y1="462.3" x2="552.2" y2="468.5" stroke="#333333" stroke-width="0.8"/>
<rect x="552.2" y="453.5" width="6.3" height="16.5" rx="0" fill="none" stroke="#333333" stroke-width="0.7"/>
<path d="M593.7,449 V466 Q593.7,471 598.6,471" fill="none" stroke="#333333" stroke-width="0.8" />
<rect x="606" y="454.9" width="2" height="6.6" rx="0" fill="none" stroke="#333333" stroke-width="0.7"/>
<rect x="589.5" y="462.3" width="4.1" height="8.8" rx="0" fill="none" stroke="#333333" stroke-width="0.7"/>
<circle cx="199.7" cy="173.1" r="12.1" fill="none" stroke="#4848a0" stroke-width="1"/>
<text x="199.7" y="176.9" font-size="10.3" text-anchor="middle" fill="#20207a" stroke="#20207a" stroke-width="0.3">4</text>
<line x1="198.84" y1="185.17" x2="194.6" y2="244.5" stroke="#4848a0" stroke-width="0.8"/>
<path d="M194.6,244.5 L193.27,237.89 L196.86,238.14 Z" fill="#4848a0"/>
<circle cx="287.4" cy="174" r="12.3" fill="none" stroke="#4848a0" stroke-width="1"/>
<text x="287.4" y="177.8" font-size="10.3" text-anchor="middle" fill="#20207a" stroke="#20207a" stroke-width="0.3">4</text>
<line x1="290.92" y1="185.79" x2="310.4" y2="251" stroke="#4848a0" stroke-width="0.8"/>
<path d="M310.4,251 L306.81,245.29 L310.26,244.26 Z" fill="#4848a0"/>
<circle cx="329.3" cy="171" r="12.3" fill="none" stroke="#4848a0" stroke-width="1"/>
<text x="329.3" y="174.8" font-size="10.3" text-anchor="middle" fill="#20207a" stroke="#20207a" stroke-width="0.3">3</text>
<line x1="328.88" y1="183.29" x2="326.6" y2="250" stroke="#4848a0" stroke-width="0.8"/>
<path d="M326.6,250 L325.02,243.44 L328.62,243.57 Z" fill="#4848a0"/>
<circle cx="366.3" cy="303.6" r="12.3" fill="none" stroke="#4848a0" stroke-width="1"/>
<text x="366.3" y="307.4" font-size="10.3" text-anchor="middle" fill="#20207a" stroke="#20207a" stroke-width="0.3">1</text>
<line x1="356.72" y1="311.31" x2="320.8" y2="340.2" stroke="#4848a0" stroke-width="0.8"/>
<path d="M320.8,340.2 L324.74,334.72 L326.99,337.53 Z" fill="#4848a0"/>
<circle cx="472.9" cy="441.6" r="12.3" fill="none" stroke="#4848a0" stroke-width="1"/>
<text x="472.9" y="445.4" font-size="10.3" text-anchor="middle" fill="#20207a" stroke="#20207a" stroke-width="0.3">4</text>
<line x1="484.99" y1="443.85" x2="551.8" y2="456.3" stroke="#4848a0" stroke-width="0.8"/>
<path d="M551.8,456.3 L545.08,456.88 L545.74,453.34 Z" fill="#4848a0"/>
<circle cx="447.4" cy="500.8" r="12.3" fill="none" stroke="#4848a0" stroke-width="1"/>
<text x="447.4" y="504.6" font-size="10.3" text-anchor="middle" fill="#20207a" stroke="#20207a" stroke-width="0.3">3</text>
<line x1="459.37" y1="503.65" x2="508.3" y2="515.3" stroke="#4848a0" stroke-width="0.8"/>
<path d="M508.3,515.3 L501.56,515.55 L502.39,512.04 Z" fill="#4848a0"/>
<line x1="9.5" y1="9.5" x2="362.5" y2="9.5" stroke="#4d4d4d" stroke-width="1.2"/>
<line x1="9.5" y1="25.5" x2="362.5" y2="25.5" stroke="#4d4d4d" stroke-width="1.2"/>
<line x1="9.5" y1="42.5" x2="362.5" y2="42.5" stroke="#4d4d4d" stroke-width="1.2"/>
<line x1="9.5" y1="59.5" x2="362.5" y2="59.5" stroke="#4d4d4d" stroke-width="1.2"/>
<line x1="9.5" y1="75.5" x2="362.5" y2="75.5" stroke="#4d4d4d" stroke-width="1.2"/>
<line x1="9.5" y1="91.5" x2="362.5" y2="91.5" stroke="#4d4d4d" stroke-width="1.2"/>
<line x1="9.5" y1="9.5" x2="9.5" y2="91.5" stroke="#4d4d4d" stroke-width="1.2"/>
<line x1="70.5" y1="9.5" x2="70.5" y2="91.5" stroke="#4d4d4d" stroke-width="1.2"/>
<line x1="326.5" y1="9.5" x2="326.5" y2="91.5" stroke="#4d4d4d" stroke-width="1.2"/>
<line x1="362.5" y1="9.5" x2="362.5" y2="91.5" stroke="#4d4d4d" stroke-width="1.2"/>
<text x="39" y="21.0" font-size="10.5" text-anchor="middle" fill="#25258c" font-weight="normal"  textLength="42" lengthAdjust="spacingAndGlyphs" stroke="#25258c" stroke-width="0.25">ITEM NO.</text>
<text x="197.5" y="21.0" font-size="10.5" text-anchor="middle" fill="#25258c" font-weight="normal"  textLength="69" lengthAdjust="spacingAndGlyphs" stroke="#25258c" stroke-width="0.25">PART NUMBER</text>
<text x="343.5" y="21.0" font-size="10.5" text-anchor="middle" fill="#25258c" font-weight="normal"  textLength="22" lengthAdjust="spacingAndGlyphs" stroke="#25258c" stroke-width="0.25">QTY.</text>
<text x="40" y="37.1" font-size="10.5" text-anchor="middle" fill="#25258c" font-weight="normal"  stroke="#25258c" stroke-width="0.25">1</text>
<text x="71.5" y="37.1" font-size="10.5" text-anchor="start" fill="#25258c" font-weight="normal"  textLength="193" lengthAdjust="spacingAndGlyphs" stroke="#25258c" stroke-width="0.25">Gadgets 3D RAMPS1.4 Complete_0.01</text>
<text x="344" y="37.1" font-size="10.5" text-anchor="middle" fill="#25258c" font-weight="normal"  stroke="#25258c" stroke-width="0.25">1</text>
<text x="40" y="54.1" font-size="10.5" text-anchor="middle" fill="#25258c" font-weight="normal"  stroke="#25258c" stroke-width="0.25">2</text>
<text x="71.5" y="54.1" font-size="10.5" text-anchor="start" fill="#25258c" font-weight="normal"  textLength="166" lengthAdjust="spacingAndGlyphs" stroke="#25258c" stroke-width="0.25">Ramps Mounting Bracket_0.01</text>
<text x="344" y="54.1" font-size="10.5" text-anchor="middle" fill="#25258c" font-weight="normal"  stroke="#25258c" stroke-width="0.25">1</text>
<text x="40" y="71.1" font-size="10.5" text-anchor="middle" fill="#25258c" font-weight="normal"  stroke="#25258c" stroke-width="0.25">3</text>
<text x="71.5" y="71.1" font-size="10.5" text-anchor="start" fill="#25258c" font-weight="normal"  textLength="117" lengthAdjust="spacingAndGlyphs" stroke="#25258c" stroke-width="0.25">ISO 7380 - M5 x 10 - 10N</text>
<text x="344" y="71.1" font-size="10.5" text-anchor="middle" fill="#25258c" font-weight="normal"  stroke="#25258c" stroke-width="0.25">2</text>
<text x="40" y="87.1" font-size="10.5" text-anchor="middle" fill="#25258c" font-weight="normal"  stroke="#25258c" stroke-width="0.25">4</text>
<text x="71.5" y="87.1" font-size="10.5" text-anchor="start" fill="#25258c" font-weight="normal"  textLength="172" lengthAdjust="spacingAndGlyphs" stroke="#25258c" stroke-width="0.25">M3 x 20mm Socket Head Screw</text>
<text x="344" y="87.1" font-size="10.5" text-anchor="middle" fill="#25258c" font-weight="normal"  stroke="#25258c" stroke-width="0.25">3</text>
<rect x="9.5" y="9.5" width="1002.5" height="702.5" fill="none" stroke="#636363" stroke-width="1.5"/>
<line x1="765.5" y1="9" x2="765.5" y2="712" stroke="#4d4d4d" stroke-width="1.3"/>
<line x1="765.5" y1="31.5" x2="1012" y2="31.5" stroke="#4d4d4d" stroke-width="1"/>
<line x1="765.5" y1="52.5" x2="1012" y2="52.5" stroke="#4d4d4d" stroke-width="1.3"/>
<line x1="802.5" y1="9.5" x2="802.5" y2="52.5" stroke="#4d4d4d" stroke-width="1"/>
<line x1="888.5" y1="9.5" x2="888.5" y2="52.5" stroke="#4d4d4d" stroke-width="1"/>
<line x1="930.5" y1="9.5" x2="930.5" y2="52.5" stroke="#4d4d4d" stroke-width="1"/>
<text x="784.5" y="22.8" font-size="6.2" text-anchor="middle" fill="#1e1e1e" font-weight="normal"  textLength="29.3" lengthAdjust="spacingAndGlyphs" stroke="#1e1e1e" stroke-width="0.25">REVISION</text>
<text x="846.8" y="22.8" font-size="6.2" text-anchor="middle" fill="#1e1e1e" font-weight="normal"  stroke="#1e1e1e" stroke-width="0.25">1</text>
<text x="909.3" y="22.8" font-size="6.2" text-anchor="middle" fill="#1e1e1e" font-weight="normal"  textLength="34.8" lengthAdjust="spacingAndGlyphs" stroke="#1e1e1e" stroke-width="0.25">DRAWN BY</text>
<text x="968.8" y="22.6" font-size="6.2" text-anchor="middle" fill="#1e1e1e" font-weight="normal"  textLength="39" lengthAdjust="spacingAndGlyphs" stroke="#1e1e1e" stroke-width="0.15">A Meadows</text>
<text x="784.5" y="45.4" font-size="6.2" text-anchor="middle" fill="#1e1e1e" font-weight="normal"  textLength="15.9" lengthAdjust="spacingAndGlyphs" stroke="#1e1e1e" stroke-width="0.25">DATE</text>
<text x="842.8" y="45.4" font-size="6.2" text-anchor="middle" fill="#1e1e1e" font-weight="normal"  textLength="37.3" lengthAdjust="spacingAndGlyphs" stroke="#1e1e1e" stroke-width="0.25">01/03/2017</text>
<text x="909.4" y="45.4" font-size="6.2" text-anchor="middle" fill="#1e1e1e" font-weight="normal"  textLength="31.4" lengthAdjust="spacingAndGlyphs" stroke="#1e1e1e" stroke-width="0.25">ENGINEER</text>
<text x="968.5" y="45.4" font-size="6.2" text-anchor="middle" fill="#1e1e1e" font-weight="normal"  textLength="41" lengthAdjust="spacingAndGlyphs" stroke="#1e1e1e" stroke-width="0.25">AMEADOWS</text>
<line x1="788" y1="52.5" x2="788" y2="554" stroke="#4d4d4d" stroke-width="1.3"/>
<text transform="translate(781.5,100) rotate(-90)" font-size="11" text-anchor="middle" fill="#1e1e1e" stroke="#1e1e1e" stroke-width="0.25" textLength="86" lengthAdjust="spacingAndGlyphs">CHANGE NOTES</text>
<line x1="765.5" y1="377.5" x2="1012" y2="377.5" stroke="#4d4d4d" stroke-width="1.3"/>
<text transform="translate(780.5,426.5) rotate(-90)" font-size="11.5" text-anchor="middle" fill="#1e1e1e" stroke="#1e1e1e" stroke-width="0.25" textLength="87" lengthAdjust="spacingAndGlyphs">GENERAL NOTES</text>
<text x="791" y="398.0" font-size="7.0" text-anchor="start" fill="#1e1e1e" font-weight="normal"  textLength="128.6" lengthAdjust="spacingAndGlyphs" stroke="#1e1e1e" stroke-width="0.15">REMOVE ALL SHARP EDGES AND BURRS</text>
<text x="791" y="412.0" font-size="7.0" text-anchor="start" fill="#1e1e1e" font-weight="normal"  textLength="178.4" lengthAdjust="spacingAndGlyphs" stroke="#1e1e1e" stroke-width="0.15">PARTS TO BE CLEAN AND FREE FROM OIL AND GREASE</text>
<text x="791" y="425.5" font-size="7.0" text-anchor="start" fill="#1e1e1e" font-weight="normal"  textLength="192" lengthAdjust="spacingAndGlyphs" stroke="#1e1e1e" stroke-width="0.15">THE USER OF THIS DRAWING IS RESPONSIBLE FOR ENSURING</text>
<text x="791" y="432.5" font-size="7.0" text-anchor="start" fill="#1e1e1e" font-weight="normal"  textLength="90.3" lengthAdjust="spacingAndGlyphs" stroke="#1e1e1e" stroke-width="0.15">THEY HAVE THE LATEST ISSUE</text>
<text x="791" y="446.5" font-size="7.0" text-anchor="start" fill="#1e1e1e" font-weight="normal"  textLength="148" lengthAdjust="spacingAndGlyphs" stroke="#1e1e1e" stroke-width="0.15">DO NOT SCALE. WORK TO DIMENSIONS ONLY</text>
<text x="791" y="460.0" font-size="7.0" text-anchor="start" fill="#1e1e1e" font-weight="normal"  textLength="91.3" lengthAdjust="spacingAndGlyphs" stroke="#1e1e1e" stroke-width="0.15">DIMENSIONS IN MILLIMETRES</text>
<line x1="765.5" y1="475.5" x2="1012" y2="475.5" stroke="#4d4d4d" stroke-width="1.3"/>
<text transform="translate(778.5,514.5) rotate(-90)" font-size="11.5" text-anchor="middle" fill="#1e1e1e" stroke="#1e1e1e" stroke-width="0.25" textLength="72" lengthAdjust="spacingAndGlyphs">TOLERANCES</text>
<text transform="translate(785,514.5) rotate(-90)" font-size="4.6" text-anchor="middle" fill="#1e1e1e" stroke="#1e1e1e" stroke-width="0.2" textLength="70" lengthAdjust="spacingAndGlyphs">UNLESS OTHERWISE SPECIFIED</text>
<line x1="788" y1="487" x2="1012" y2="487" stroke="#4d4d4d" stroke-width="1"/>
<line x1="788" y1="498" x2="1012" y2="498" stroke="#4d4d4d" stroke-width="1"/>
<line x1="788" y1="509.5" x2="1012" y2="509.5" stroke="#4d4d4d" stroke-width="1"/>
<line x1="788" y1="520.5" x2="1012" y2="520.5" stroke="#4d4d4d" stroke-width="1"/>
<line x1="788" y1="531.5" x2="1012" y2="531.5" stroke="#4d4d4d" stroke-width="1"/>
<line x1="788" y1="543" x2="1012" y2="543" stroke="#4d4d4d" stroke-width="1"/>
<line x1="893.5" y1="475.5" x2="893.5" y2="554" stroke="#4d4d4d" stroke-width="1"/>
<line x1="933.5" y1="475.5" x2="933.5" y2="554" stroke="#4d4d4d" stroke-width="1"/>
<line x1="972.5" y1="475.5" x2="972.5" y2="554" stroke="#4d4d4d" stroke-width="1"/>
<text x="791" y="483.5" font-size="3.6" text-anchor="start" fill="#1e1e1e" font-weight="normal"  textLength="98" lengthAdjust="spacingAndGlyphs" stroke="#1e1e1e" stroke-width="0.1">TOLERANCE HIERARCHY IN DESCENDING ORDER</text>
<text x="913.5" y="483.5" font-size="3.8" text-anchor="middle" fill="#1e1e1e" font-weight="normal" >0-250mm</text>
<text x="953" y="483.5" font-size="3.8" text-anchor="middle" fill="#1e1e1e" font-weight="normal" >250-1000mm</text>
<text x="992.5" y="483.5" font-size="3.8" text-anchor="middle" fill="#1e1e1e" font-weight="normal" >1000mm+</text>
<text x="789.7" y="495.5" font-size="7" text-anchor="start" fill="#1e1e1e" font-weight="normal"  textLength="40.7" lengthAdjust="spacingAndGlyphs" stroke="#1e1e1e" stroke-width="0.2">MACHINING</text>
<text x="914.5" y="495.0" font-size="7.2" text-anchor="middle" fill="#1e1e1e" font-weight="normal"  textLength="27" lengthAdjust="spacingAndGlyphs" stroke="#1e1e1e" stroke-width="0.15">±0.1mm</text>
<text x="954" y="495.0" font-size="7.2" text-anchor="middle" fill="#1e1e1e" font-weight="normal"  textLength="27" lengthAdjust="spacingAndGlyphs" stroke="#1e1e1e" stroke-width="0.15">±0.2mm</text>
<text x="993.5" y="495.0" font-size="7.2" text-anchor="middle" fill="#1e1e1e" font-weight="normal"  textLength="27" lengthAdjust="spacingAndGlyphs" stroke="#1e1e1e" stroke-width="0.15">±0.5mm</text>
<text x="789.7" y="506.5" font-size="7" text-anchor="start" fill="#1e1e1e" font-weight="normal"  textLength="31.2" lengthAdjust="spacingAndGlyphs" stroke="#1e1e1e" stroke-width="0.2">HOLE SIZE</text>
<text x="901.5" y="501.5" font-size="3.5" text-anchor="start" fill="#1e1e1e" font-weight="normal" >+0.3</text>
<text x="901.5" y="506.5" font-size="3.5" text-anchor="start" fill="#1e1e1e" font-weight="normal" >– 0</text>
<text x="918.5" y="506.0" font-size="7.2" text-anchor="middle" fill="#1e1e1e" font-weight="normal"  textLength="12.5" lengthAdjust="spacingAndGlyphs" stroke="#1e1e1e" stroke-width="0.15">mm</text>
<text x="941" y="501.5" font-size="3.5" text-anchor="start" fill="#1e1e1e" font-weight="normal" >+0.2</text>
<text x="941" y="506.5" font-size="3.5" text-anchor="start" fill="#1e1e1e" font-weight="normal" >– 0</text>
<text x="958" y="506.0" font-size="7.2" text-anchor="middle" fill="#1e1e1e" font-weight="normal"  textLength="12.5" lengthAdjust="spacingAndGlyphs" stroke="#1e1e1e" stroke-width="0.15">mm</text>
<text x="980.5" y="501.5" font-size="3.5" text-anchor="start" fill="#1e1e1e" font-weight="normal" >+0.2</text>
<text x="980.5" y="506.5" font-size="3.5" text-anchor="start" fill="#1e1e1e" font-weight="normal" >– 0</text>
<text x="997.5" y="506.0" font-size="7.2" text-anchor="middle" fill="#1e1e1e" font-weight="normal"  textLength="12.5" lengthAdjust="spacingAndGlyphs" stroke="#1e1e1e" stroke-width="0.15">mm</text>
<text x="789.7" y="518.0" font-size="7" text-anchor="start" fill="#1e1e1e" font-weight="normal"  textLength="49" lengthAdjust="spacingAndGlyphs" stroke="#1e1e1e" stroke-width="0.2">HOLE POSITION</text>
<text x="914.5" y="517.5" font-size="7.2" text-anchor="middle" fill="#1e1e1e" font-weight="normal"  textLength="27" lengthAdjust="spacingAndGlyphs" stroke="#1e1e1e" stroke-width="0.15">±0.3mm</text>
<text x="954" y="517.5" font-size="7.2" text-anchor="middle" fill="#1e1e1e" font-weight="normal"  textLength="27" lengthAdjust="spacingAndGlyphs" stroke="#1e1e1e" stroke-width="0.15">±0.5mm</text>
<text x="993.5" y="517.5" font-size="7.2" text-anchor="middle" fill="#1e1e1e" font-weight="normal"  textLength="27" lengthAdjust="spacingAndGlyphs" stroke="#1e1e1e" stroke-width="0.15">±0.5mm</text>
<text x="789.7" y="529.0" font-size="7" text-anchor="start" fill="#1e1e1e" font-weight="normal"  textLength="48.5" lengthAdjust="spacingAndGlyphs" stroke="#1e1e1e" stroke-width="0.2">FORM/PROFILE</text>
<text x="914.5" y="528.5" font-size="7.2" text-anchor="middle" fill="#1e1e1e" font-weight="normal"  textLength="27" lengthAdjust="spacingAndGlyphs" stroke="#1e1e1e" stroke-width="0.15">±0.5mm</text>
<text x="954" y="528.5" font-size="7.2" text-anchor="middle" fill="#1e1e1e" font-weight="normal"  textLength="27" lengthAdjust="spacingAndGlyphs" stroke="#1e1e1e" stroke-width="0.15">±1.0mm</text>
<text x="993.5" y="528.5" font-size="7.2" text-anchor="middle" fill="#1e1e1e" font-weight="normal"  textLength="27" lengthAdjust="spacingAndGlyphs" stroke="#1e1e1e" stroke-width="0.15">±1.0mm</text>
<text x="789.7" y="540.0" font-size="7" text-anchor="start" fill="#1e1e1e" font-weight="normal"  textLength="87.6" lengthAdjust="spacingAndGlyphs" stroke="#1e1e1e" stroke-width="0.2">ASSEMBLIES/ FABRICATIONS</text>
<text x="914.5" y="539.5" font-size="7.2" text-anchor="middle" fill="#1e1e1e" font-weight="normal"  textLength="27" lengthAdjust="spacingAndGlyphs" stroke="#1e1e1e" stroke-width="0.15">±0.5mm</text>
<text x="954" y="539.5" font-size="7.2" text-anchor="middle" fill="#1e1e1e" font-weight="normal"  textLength="27" lengthAdjust="spacingAndGlyphs" stroke="#1e1e1e" stroke-width="0.15">±1.0mm</text>
<text x="993.5" y="539.5" font-size="7.2" text-anchor="middle" fill="#1e1e1e" font-weight="normal"  textLength="27" lengthAdjust="spacingAndGlyphs" stroke="#1e1e1e" stroke-width="0.15">±2.0mm</text>
<text x="789.7" y="551.5" font-size="7" text-anchor="start" fill="#1e1e1e" font-weight="normal"  textLength="26" lengthAdjust="spacingAndGlyphs" stroke="#1e1e1e" stroke-width="0.2">ANGLES</text>
<text x="914.5" y="551.0" font-size="7.2" text-anchor="middle" fill="#1e1e1e" font-weight="normal"  textLength="20" lengthAdjust="spacingAndGlyphs" stroke="#1e1e1e" stroke-width="0.15">±0.3°</text>
<text x="954" y="551.0" font-size="7.2" text-anchor="middle" fill="#1e1e1e" font-weight="normal"  textLength="20" lengthAdjust="spacingAndGlyphs" stroke="#1e1e1e" stroke-width="0.15">±0.1°</text>
<text x="993.5" y="551.0" font-size="7.2" text-anchor="middle" fill="#1e1e1e" font-weight="normal"  textLength="20" lengthAdjust="spacingAndGlyphs" stroke="#1e1e1e" stroke-width="0.15">±0.1°</text>
<line x1="765.5" y1="554.5" x2="1012" y2="554.5" stroke="#4d4d4d" stroke-width="1.3"/>
<text transform="translate(780.5,585) rotate(-90)" font-size="11.5" text-anchor="middle" fill="#1e1e1e" stroke="#1e1e1e" stroke-width="0.25" textLength="52" lengthAdjust="spacingAndGlyphs">MATERIAL</text>
<line x1="788" y1="570" x2="1012" y2="570" stroke="#4d4d4d" stroke-width="1"/>
<line x1="788" y1="585.5" x2="1012" y2="585.5" stroke="#4d4d4d" stroke-width="1"/>
<line x1="788" y1="600.5" x2="1012" y2="600.5" stroke="#4d4d4d" stroke-width="1"/>
<line x1="833.5" y1="554.5" x2="833.5" y2="648.5" stroke="#4d4d4d" stroke-width="1"/>
<text x="811.3" y="565.2" font-size="7.7" text-anchor="middle" fill="#1e1e1e" font-weight="normal"  textLength="15.4" lengthAdjust="spacingAndGlyphs" stroke="#1e1e1e" stroke-width="0.3">SIZE</text>
<text x="913.8" y="565.2" font-size="7.7" text-anchor="middle" fill="#1e1e1e" font-weight="normal"  textLength="98.7" lengthAdjust="spacingAndGlyphs" stroke="#1e1e1e" stroke-width="0.3">SEE COMPONENT PARTS</text>
<text x="811.3" y="579.8" font-size="7.7" text-anchor="middle" fill="#1e1e1e" font-weight="normal"  textLength="39.5" lengthAdjust="spacingAndGlyphs" stroke="#1e1e1e" stroke-width="0.3">MATERIAL</text>
<text x="913.8" y="579.8" font-size="7.7" text-anchor="middle" fill="#1e1e1e" font-weight="normal"  textLength="98.7" lengthAdjust="spacingAndGlyphs" stroke="#1e1e1e" stroke-width="0.3">SEE COMPONENT PARTS</text>
<text x="811.3" y="595.6" font-size="7.7" text-anchor="middle" fill="#1e1e1e" font-weight="normal"  textLength="20.5" lengthAdjust="spacingAndGlyphs" stroke="#1e1e1e" stroke-width="0.3">SPEC</text>
<text x="913.8" y="595.6" font-size="7.7" text-anchor="middle" fill="#1e1e1e" font-weight="normal"  textLength="98.7" lengthAdjust="spacingAndGlyphs" stroke="#1e1e1e" stroke-width="0.3">SEE COMPONENT PARTS</text>
<text x="811.3" y="611.8" font-size="7.7" text-anchor="middle" fill="#1e1e1e" font-weight="normal"  textLength="24.7" lengthAdjust="spacingAndGlyphs" stroke="#1e1e1e" stroke-width="0.3">FINISH</text>
<text x="914.9" y="611.8" font-size="7.7" text-anchor="middle" fill="#1e1e1e" font-weight="normal"  textLength="22.2" lengthAdjust="spacingAndGlyphs" stroke="#1e1e1e" stroke-width="0.3">None</text>
<line x1="765.5" y1="616.5" x2="1012" y2="616.5" stroke="#4d4d4d" stroke-width="1.3"/>
<line x1="765.5" y1="632.5" x2="930.5" y2="632.5" stroke="#4d4d4d" stroke-width="1"/>
<line x1="930.5" y1="616.5" x2="930.5" y2="648.5" stroke="#4d4d4d" stroke-width="1"/>
<text x="798.6" y="627" font-size="5.4" text-anchor="middle" fill="#1e1e1e" font-weight="normal"  textLength="55.8" lengthAdjust="spacingAndGlyphs" stroke="#1e1e1e" stroke-width="0.3">DRAWING SCALE</text>
<text x="795.9" y="643" font-size="5.4" text-anchor="middle" fill="#1e1e1e" font-weight="normal"  textLength="47.4" lengthAdjust="spacingAndGlyphs" stroke="#1e1e1e" stroke-width="0.3">DRAWING SIZE</text>
<text x="878" y="627" font-size="7.5" text-anchor="middle" fill="#1e1e1e" font-weight="normal"  stroke="#1e1e1e" stroke-width="0.15">1:1</text>
<text x="878" y="642" font-size="7.5" text-anchor="middle" fill="#1e1e1e" font-weight="normal"  stroke="#1e1e1e" stroke-width="0.15">A3</text>
<g stroke="#1e1e1e" fill="none" stroke-width="0.9"><circle cx="957.2" cy="631.3" r="7"/><circle cx="957.2" cy="631.3" r="3.4"/><line x1="945.5" y1="631.3" x2="992" y2="631.3" stroke-width="0.7"/><line x1="957.2" y1="619.8" x2="957.2" y2="622.6" stroke-width="0.8"/><line x1="957.2" y1="640" x2="957.2" y2="642.8" stroke-width="0.8"/><path d="M970 626.8 L985 624.2 L985 638.5 L970 635.9 Z"/></g>
<line x1="765.5" y1="648.5" x2="1012" y2="648.5" stroke="#4d4d4d" stroke-width="1.3"/>
<text x="772.2" y="663" font-size="11" text-anchor="start" fill="#1e1e1e" font-weight="normal"  textLength="26" lengthAdjust="spacingAndGlyphs">TITLE:</text>
<text x="807" y="663" font-size="11" text-anchor="start" fill="#1e1e1e" font-weight="normal" textLength="150" lengthAdjust="spacingAndGlyphs">Control Board Assembly_0.01</text>
<line x1="765.5" y1="671.5" x2="1012" y2="671.5" stroke="#4d4d4d" stroke-width="1.3"/>
<text x="772" y="686.5" font-size="11" text-anchor="start" fill="#1e1e1e" font-weight="normal" textLength="40" lengthAdjust="spacingAndGlyphs">STATUS:</text>
<text x="823" y="686.5" font-size="11" text-anchor="start" fill="#1e1e1e" font-weight="normal" textLength="50" lengthAdjust="spacingAndGlyphs">Released</text>
<line x1="765.5" y1="694.5" x2="1012" y2="694.5" stroke="#4d4d4d" stroke-width="1.3"/>
<line x1="802.5" y1="694.5" x2="802.5" y2="712" stroke="#4d4d4d" stroke-width="1"/>
<line x1="888.5" y1="694.5" x2="888.5" y2="712" stroke="#4d4d4d" stroke-width="1"/>
<text x="784" y="701.5" font-size="4.6" text-anchor="middle" fill="#1e1e1e" font-weight="normal" textLength="33" lengthAdjust="spacingAndGlyphs">ESTIMATED</text>
<text x="784" y="707.5" font-size="4.6" text-anchor="middle" fill="#1e1e1e" font-weight="normal" >MASS</text>
<text x="814.6" y="707.5" font-size="10.5" text-anchor="start" fill="#1e1e1e" font-weight="normal"  textLength="36" lengthAdjust="spacingAndGlyphs">0.06Kg</text>
<text x="951" y="707.5" font-size="10.5" text-anchor="middle" fill="#1e1e1e" font-weight="normal" textLength="64" lengthAdjust="spacingAndGlyphs">SHEET 1 OF 1</text>
</svg>
</body></html>
